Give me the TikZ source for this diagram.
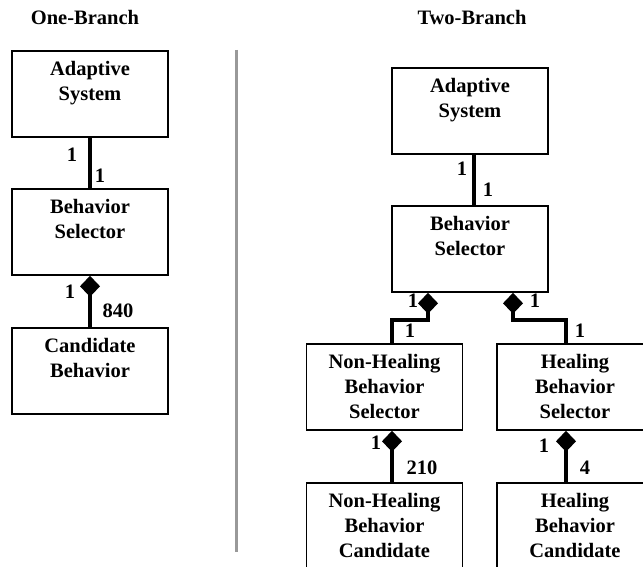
\documentclass[tikz,border=0pt]{standalone}
\usepackage{fontspec}
\setmainfont{Liberation Serif}
\usetikzlibrary{arrows.meta}
\newcommand\umlfont{\bfseries\fontsize{20.5}{25}\selectfont}
\tikzset{
  classbox/.style={draw, line width=1.8pt, text width=140pt, align=center,
    inner xsep=8pt, inner ysep=8pt, text height=17pt, text depth=53pt,
    anchor=north, font=\umlfont},
  mult/.style={inner sep=0pt, font=\umlfont},
  heading/.style={inner sep=0pt, font=\umlfont},
  link/.style={line width=3.6pt, line join=miter},
  comp/.style={link, {Diamond[length=21pt,width=20pt,line width=0pt]}-},
  divider/.style={line width=3.5pt, black!40}
}
\begin{document}
\begin{tikzpicture}[x=1pt,y=-1pt]
\useasboundingbox (0,0) rectangle (643,567);
% one branch
\node[heading] (t1) at (85,17) {One-Branch};
\node[classbox] (as1) at (90,50) {Adaptive\\System};
\node[classbox] (bs1) at (90,188) {Behavior\\Selector};
\node[classbox] (cb1) at (90,327) {Candidate\\Behavior};
\draw[link] (as1.south) -- (bs1.north);
\draw[comp] (bs1.south) -- (cb1.north);
\node[mult] (m1) at (72,155) {1};
\node[mult] (m2) at (100,176) {1};
\node[mult] (m3) at (70,292) {1};
\node[mult] (m4) at (118,311) {840};
% divider
\draw[divider] (236.5,50) -- (236.5,552);
% two branch
\node[heading] (t2) at (472,17) {Two-Branch};
\node[classbox] (as2) at (470,67) {Adaptive\\System};
\node[classbox] (bs2) at (470,205) {Behavior\\Selector};
\node[classbox] (nhs) at (384.5,343) {Non-Healing\\Behavior\\Selector};
\node[classbox] (hs) at (575,343) {Healing\\Behavior\\Selector};
\node[classbox] (nhc) at (384.5,482) {Non-Healing\\Behavior\\Candidate};
\node[classbox] (hc) at (575,482) {Healing\\Behavior\\Candidate};
\draw[link] ([xshift=4pt]as2.south) -- ([xshift=4pt]bs2.north);
\draw[comp] ([xshift=-42pt]bs2.south) -- ++(0,27) -| ([xshift=7.5pt]nhs.north);
\draw[comp] ([xshift=43pt]bs2.south) -- ++(0,27) -| ([xshift=-9pt]hs.north);
\draw[comp] ([xshift=7.5pt]nhs.south) -- ([xshift=7.5pt]nhc.north);
\draw[comp] ([xshift=-9pt]hs.south) -- ([xshift=-9pt]hc.north);
\node[mult] (m5) at (462,169) {1};
\node[mult] (m6) at (488,190) {1};
\node[mult] (m7) at (413,301) {1};
\node[mult] (m8) at (410,331) {1};
\node[mult] (m9) at (535,301) {1};
\node[mult] (m10) at (580,331) {1};
\node[mult] (m11) at (376,443) {1};
\node[mult] (m12) at (422,468) {210};
\node[mult] (m13) at (544,446) {1};
\node[mult] (m14) at (585,468) {4};
\end{tikzpicture}
\end{document}
